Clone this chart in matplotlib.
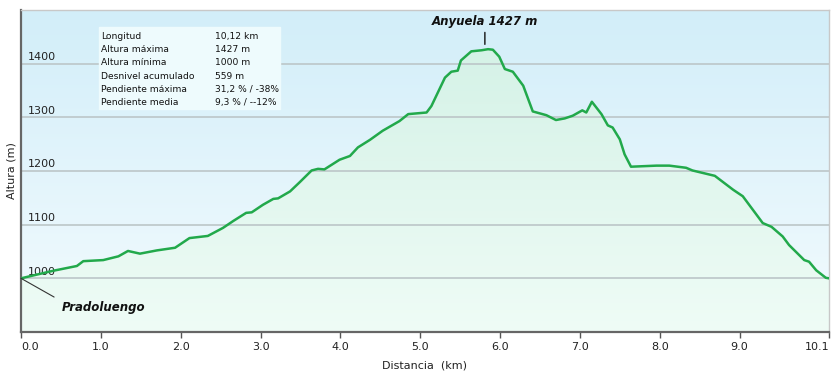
import numpy as np
import matplotlib
matplotlib.use("Agg")
import matplotlib.pyplot as plt
from matplotlib.colors import LinearSegmentedColormap

# elevation profile
dist_km = [0.00, 0.40, 0.70, 0.78, 1.03, 1.22, 1.34, 1.49, 1.70, 1.93, 2.11, 2.34,
           2.53, 2.66, 2.82, 2.89, 3.03, 3.16, 3.22, 3.37, 3.49, 3.64, 3.72, 3.80,
           3.99, 4.12, 4.22, 4.37, 4.53, 4.74, 4.85, 5.08, 5.14, 5.31, 5.39, 5.47,
           5.51, 5.64, 5.77, 5.85, 5.91, 5.99, 6.06, 6.16, 6.29, 6.41, 6.58, 6.70,
           6.81, 6.91, 7.03, 7.08, 7.15, 7.27, 7.35, 7.41, 7.50, 7.56, 7.64, 7.96,
           8.12, 8.33, 8.41, 8.69, 8.92, 9.04, 9.29, 9.40, 9.54, 9.62, 9.81, 9.87,
           9.96, 10.08, 10.12]
alt_m = [1000, 1014, 1023, 1032, 1034, 1041, 1051, 1046, 1052, 1057, 1075, 1079,
         1094, 1107, 1122, 1123, 1137, 1148, 1149, 1162, 1179, 1201, 1204, 1203,
         1221, 1228, 1244, 1258, 1275, 1293, 1306, 1309, 1321, 1374, 1385, 1387,
         1406, 1423, 1425, 1427, 1426, 1413, 1390, 1385, 1359, 1311, 1304, 1295,
         1298, 1303, 1313, 1309, 1329, 1306, 1285, 1281, 1259, 1231, 1208, 1210,
         1210, 1206, 1201, 1191, 1165, 1153, 1103, 1096, 1078, 1062, 1034, 1031,
         1015, 1001, 1000]

x_ticks = [0, 1, 2, 3, 4, 5, 6, 7, 8, 9, 10.12]
x_labels = ["0.0", "1.0", "2.0", "3.0", "4.0", "5.0", "6.0", "7.0", "8.0", "9.0", "10.1"]
y_ticks = [1000, 1100, 1200, 1300, 1400]

info_keys = ["Longitud", "Altura máxima", "Altura mínima", "Desnivel acumulado",
             "Pendiente máxima", "Pendiente media"]
info_vals = ["10,12 km", "1427 m", "1000 m", "559 m", "31,2 % / -38%", "9,3 % / --12%"]

peak_name = "Anyuela 1427 m"
peak_pos = (5.81, 1427)
start_name = "Pradoluengo"
start_pos = (0.0, 1000)

x0, x1 = 0, 10.12
y0, y1 = 900, 1500

fig = plt.figure(figsize=(8.32, 3.75), dpi=100)
ax = fig.add_axes([21 / 832, 1 - 332 / 375, 808 / 832, 322 / 375])
ax.set_xlim(x0, x1)
ax.set_ylim(y0, y1)

# sky gradient behind everything
sky = LinearSegmentedColormap.from_list("sky", ["#f3fbfe", "#d2eef9"])
grad = np.linspace(0, 1, 256).reshape(-1, 1)
ax.imshow(grad, cmap=sky, origin="lower", extent=[x0, x1, y0, y1],
          aspect="auto", zorder=0, interpolation="bicubic")

# green gradient under the profile
poly = ax.fill_between(dist_km, alt_m, y0, color="none", zorder=1)
green = LinearSegmentedColormap.from_list("grn", ["#effcf6", "#d5f2e7"])
im = ax.imshow(grad, cmap=green, origin="lower", extent=[x0, x1, y0, 1430],
               aspect="auto", zorder=1, interpolation="bicubic")
im.set_clip_path(poly.get_paths()[0], transform=ax.transData)

for yv in y_ticks:
    ax.axhline(yv, color="#bcc6c8", lw=1.2, zorder=2)
    ax.text(0.09, yv + 3, str(yv), fontsize=8, color="#222222",
            ha="left", va="bottom", zorder=3)

ax.plot(dist_km, alt_m, color="#22a94b", lw=1.8, zorder=4, solid_joinstyle="round")

ax.set_yticks([])
ax.set_xticks(x_ticks)
ax.set_xticklabels(x_labels, fontsize=8, color="#222222")
lbls = ax.get_xticklabels()
lbls[0].set_ha("left")
lbls[-1].set_ha("right")
ax.tick_params(axis="x", direction="out", length=4, width=1, color="#555555", pad=3)

ax.set_xlabel("Distancia  (km)", fontsize=8, color="#222222", labelpad=6)
ax.set_ylabel("Altura (m)", fontsize=8, color="#222222", labelpad=3)

for side in ["left", "bottom"]:
    ax.spines[side].set_color("#666666")
    ax.spines[side].set_linewidth(1.6)
for side in ["top", "right"]:
    ax.spines[side].set_color("#c8c8c8")
    ax.spines[side].set_linewidth(1.0)

# annotations
ax.annotate(peak_name, xy=(peak_pos[0], 1436), xytext=(peak_pos[0], 1466),
            ha="center", va="bottom", fontsize=8.5, fontweight="bold", style="italic",
            color="#111111", zorder=6,
            arrowprops=dict(arrowstyle="-", color="#111111", lw=1, shrinkA=1, shrinkB=0))
ax.annotate(start_name, xy=start_pos, xytext=(0.51, 945),
            ha="left", va="center", fontsize=8.5, fontweight="bold", style="italic",
            color="#111111", zorder=6,
            arrowprops=dict(arrowstyle="-", color="#333333", lw=0.8,
                            shrinkA=4, shrinkB=0, relpos=(0, 1)))

# info box
ax.fill_between([0.975, 3.24], 1315, 1469, color="#eefbfd", zorder=3)
row_y = np.linspace(1451, 1327, len(info_keys))
for k, v, yy in zip(info_keys, info_vals, row_y):
    ax.text(1.0, yy, k, fontsize=6.6, color="#111111", va="center", ha="left", zorder=4)
    ax.text(2.43, yy, v, fontsize=6.6, color="#111111", va="center", ha="left", zorder=4)

fig.savefig("out.png", dpi=100)
